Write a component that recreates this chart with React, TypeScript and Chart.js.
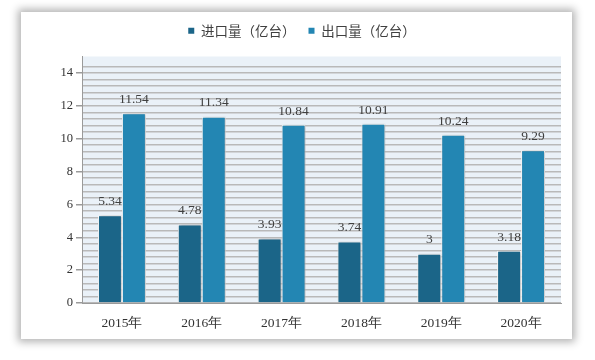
import React, { useEffect, useRef } from "react";
import { Chart, registerables } from "chart.js";

Chart.register(...registerables);

const categories = ["2015年", "2016年", "2017年", "2018年", "2019年", "2020年"];
const importValues = [5.34, 4.78, 3.93, 3.74, 3, 3.18];
const exportValues = [11.54, 11.34, 10.84, 10.91, 10.24, 9.29];
const seriesNames = ["进口量（亿台）", "出口量（亿台）"];
const seriesColors = ["#1B6588", "#2386B3"];
const yMax = 15;
const yStep = 0.4;
const yLabelStep = 2;

const isMajor = (v: number) => Math.abs(v / yLabelStep - Math.round(v / yLabelStep)) < 1e-6;

const bgPlugin = {
  id: "plotBg",
  beforeDraw(chart: any) {
    const { ctx, chartArea } = chart;
    ctx.save();
    ctx.fillStyle = "#EAF1F8";
    ctx.fillRect(chartArea.left, chartArea.top, chartArea.right - chartArea.left, chartArea.bottom - chartArea.top);
    ctx.restore();
  },
};

const legendShiftPlugin = {
  id: "legendShift",
  afterLayout(chart: any) {
    const l = chart.legend;
    if (l) {
      l.left += 11;
      l.right += 11;
    }
  },
};

const shadowPlugin = {
  id: "barShadow",
  beforeDatasetsDraw(chart: any) {
    const ctx = chart.ctx;
    ctx.save();
    ctx.shadowColor = "rgba(0,0,0,0.35)";
    ctx.shadowBlur = 3;
    ctx.shadowOffsetX = 1;
    ctx.shadowOffsetY = 0;
  },
  afterDatasetsDraw(chart: any) {
    chart.ctx.restore();
  },
};

const labelPlugin = {
  id: "valueLabels",
  afterDraw(chart: any) {
    const ctx = chart.ctx;
    ctx.save();
    ctx.font = "13.5px 'Liberation Serif', serif";
    ctx.fillStyle = "#404040";
    ctx.textAlign = "center";
    ctx.textBaseline = "bottom";
    chart.data.datasets.forEach((ds: any, di: number) => {
      const meta = chart.getDatasetMeta(di);
      meta.data.forEach((el: any, i: number) => {
        ctx.fillText(String(ds.data[i]), el.x, el.y - 7);
      });
    });
    ctx.restore();
  },
};

export default function App() {
  const ref = useRef<HTMLCanvasElement | null>(null);

  useEffect(() => {
    if (!ref.current) return;
    const chart = new Chart(ref.current, {
      type: "bar",
      data: {
        labels: categories,
        datasets: [
          {
            label: seriesNames[0],
            data: importValues,
            backgroundColor: seriesColors[0],
            borderColor: "#ffffff",
            borderWidth: 1,
            barPercentage: 1,
            categoryPercentage: 0.6,
          },
          {
            label: seriesNames[1],
            data: exportValues,
            backgroundColor: seriesColors[1],
            borderColor: "#ffffff",
            borderWidth: 1,
            barPercentage: 1,
            categoryPercentage: 0.6,
          },
        ],
      },
      options: {
        responsive: false,
        animation: false,
        devicePixelRatio: 1,
        layout: { padding: { left: 0, right: 11, top: -1, bottom: 0 } },
        plugins: {
          tooltip: { enabled: false },
          subtitle: {
            display: true,
            text: "",
            weight: 500,
            position: "top",
            padding: 0,
            font: { size: 9, lineHeight: 1 },
          },
          legend: {
            position: "top",
            labels: {
              boxWidth: 6,
              boxHeight: 6,
              padding: 13,
              color: "#404040",
              font: { size: 13.5, family: "'Noto Sans CJK SC', sans-serif" },
              generateLabels(chart: any) {
                return chart.data.datasets.map((ds: any, i: number) => ({
                  text: ds.label,
                  fillStyle: ds.backgroundColor,
                  strokeStyle: ds.backgroundColor,
                  lineWidth: 0,
                  hidden: false,
                  datasetIndex: i,
                  fontColor: "#404040",
                }));
              },
            },
          },
        },
        scales: {
          x: {
            grid: { display: false },
            border: { display: true, color: "#9a9a9a", width: 1 },
            ticks: {
              color: "#333333",
              padding: 4,
              font: { size: 13.5, family: "'Liberation Serif', serif" },
            },
            afterFit(scale: any) {
              scale.height = 36;
            },
          },
          y: {
            min: 0,
            max: yMax,
            border: { display: true, color: "#9a9a9a", width: 1 },
            grid: {
              color: (c: any) => (c.tick && c.tick.value > yMax - 0.1 ? "rgba(0,0,0,0)" : "#b9b9b9"),
              lineWidth: 1.5,
              tickLength: 6,
              tickColor: (c: any) => (c.tick && isMajor(c.tick.value) ? "#9a9a9a" : "rgba(0,0,0,0)"),
            },
            ticks: {
              stepSize: yStep,
              autoSkip: false,
              padding: 3,
              color: "#333333",
              font: { size: 12.5, family: "'Liberation Serif', serif" },
              callback: (v: any) => (isMajor(Number(v)) ? String(Math.round(Number(v))) : ""),
            },
            afterFit(scale: any) {
              scale.width = 61;
            },
          },
        },
      },
      plugins: [bgPlugin, legendShiftPlugin, shadowPlugin, labelPlugin],
    });
    return () => chart.destroy();
  }, []);

  return (
    <div
      style={{
        position: "absolute",
        left: 21,
        top: 12,
        width: 551,
        height: 327,
        background: "#ffffff",
        boxShadow: "0 0 8px 3px rgba(0,0,0,0.3)",
      }}
    >
      <canvas ref={ref} width={551} height={327} style={{ display: "block" }} />
    </div>
  );
}
